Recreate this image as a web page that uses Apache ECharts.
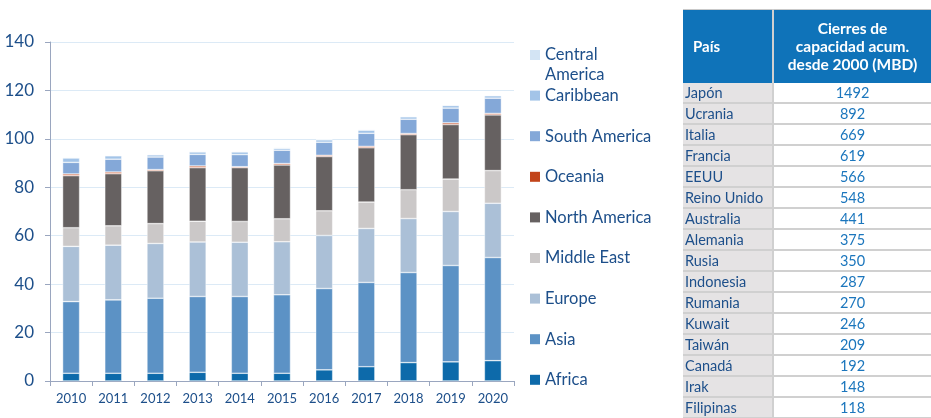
<html>
<head>
<meta charset="utf-8" />
<script src="https://cdn.jsdelivr.net/npm/echarts@6/dist/echarts.min.js"></script>
<title>Capacidad de refino</title>
<style>
    body { margin: 0; overflow: hidden; background: #fff; font-family: Lato, "DejaVu Sans", sans-serif; }
    #chart { position: absolute; left: 0; top: 0; width: 931px; height: 418px; }
    #tabla {
        position: absolute; left: 683px; top: 9px; width: 248px;
        border-collapse: collapse; font-family: Lato, sans-serif; font-size: 14.5px;
    }
    #tabla th { background: #0f73b9; color: #fff; font-weight: bold; height: 73px; padding: 0; border-top: 1px solid #c9c9c9; }
    #tabla th.pais { text-align: left; padding-left: 10px; width: 79px; border-right: 2px solid #d0d0d0; font-size: 15px; }
    #tabla th.val { line-height: 18px; text-align: center; font-size: 15.5px; }
    #tabla td { height: 19px; padding: 0; border-bottom: 2px solid #d0d0d0; line-height: 19px; }
    #tabla td.pais { background: #e5e3e4; color: #1d4f8a; padding-left: 2px; border-right: 2px solid #d0d0d0; }
    #tabla td.val { color: #1b76bd; text-align: center; }
</style>
</head>
<body>
<div id="chart"></div>
<table id="tabla">
    <thead><tr><th class="pais">País</th><th class="val">Cierres de<br>capacidad acum.<br>desde 2000 (MBD)</th></tr></thead>
    <tbody id="tbody"></tbody>
</table>
<script type="text/javascript">
    var years = ['2010', '2011', '2012', '2013', '2014', '2015', '2016', '2017', '2018', '2019', '2020'];

    var africa = [3.2, 3.2, 3.2, 3.6, 3.2, 3.2, 4.6, 5.9, 7.6, 7.9, 8.4];
    var asia = [29.6, 30.3, 31.0, 31.3, 31.7, 32.4, 33.6, 34.8, 37.2, 39.8, 42.6];
    var europe = [22.8, 22.6, 22.6, 22.5, 22.4, 21.9, 21.9, 22.3, 22.3, 22.3, 22.4];
    var middleEast = [7.7, 8.0, 8.2, 8.6, 8.6, 9.5, 10.2, 10.9, 11.9, 13.4, 13.5];
    var northAmerica = [21.5, 21.5, 21.8, 22.1, 22.2, 22.2, 22.4, 22.4, 22.7, 22.5, 23.0];
    var oceania = [0.7, 0.7, 0.5, 0.7, 0.4, 0.6, 0.5, 0.6, 0.5, 0.7, 0.6];
    var southAmerica = [4.8, 5.3, 5.2, 4.8, 5.0, 5.5, 5.4, 5.4, 5.9, 6.1, 6.3];
    var caribbean = [1.8, 1.4, 0.9, 1.0, 1.1, 0.8, 1.0, 1.3, 1.0, 1.1, 1.0];
    var centralAmerica = [0.3, 0.3, 0.3, 0.3, 0.3, 0.3, 0.3, 0.3, 0.3, 0.3, 0.3];

    var yTicks = [0, 20, 40, 60, 80, 100, 120, 140];

    var paises = ['Japón', 'Ucrania', 'Italia', 'Francia', 'EEUU', 'Reino Unido', 'Australia', 'Alemania',
        'Rusia', 'Indonesia', 'Rumania', 'Kuwait', 'Taiwán', 'Canadá', 'Irak', 'Filipinas'];
    var cierres = [1492, 892, 669, 619, 566, 548, 441, 375, 350, 287, 270, 246, 209, 192, 148, 118];

    // table on the right
    var tbody = document.getElementById('tbody');
    for (var i = 0; i < paises.length; i++) {
        var tr = document.createElement('tr');
        tr.innerHTML = '<td class="pais"></td><td class="val"></td>';
        tr.children[0].textContent = paises[i];
        tr.children[1].textContent = cierres[i];
        tbody.appendChild(tr);
    }

    var textBlue = '#1d4f8a';
    var regions = [
        { name: 'Africa', data: africa, color: '#0d6aaa' },
        { name: 'Asia', data: asia, color: '#5c92c5' },
        { name: 'Europe', data: europe, color: '#abc0d7' },
        { name: 'Middle East', data: middleEast, color: '#cbc8c8' },
        { name: 'North America', data: northAmerica, color: '#666161' },
        { name: 'Oceania', data: oceania, color: '#c2441a' },
        { name: 'South America', data: southAmerica, color: '#84a8d8' },
        { name: 'Caribbean', data: caribbean, color: '#a3c4e8' },
        { name: 'Central America', data: centralAmerica, color: '#d3e4f4' }
    ];

    var series = regions.map(function(r) {
        return {
            name: r.name,
            type: 'bar',
            stack: 'total',
            barWidth: 17,
            data: r.data,
            itemStyle: { color: r.color, borderColor: 'rgba(255,255,255,0.7)', borderWidth: 0.6 }
        };
    });

    var chart = echarts.init(document.getElementById('chart'));
    chart.setOption({
        animation: false,
        textStyle: { fontFamily: 'Lato' },
        grid: { left: 50, right: 417, top: 42, bottom: 37 },
        legend: {
            orient: 'vertical',
            left: 530,
            top: 45,
            padding: 0,
            itemWidth: 10,
            itemHeight: 10,
            itemGap: 20.6,
            icon: 'rect',
            itemStyle: { borderWidth: 0 },
            data: regions.map(function(r) { return r.name; }).reverse(),
            formatter: function(name) {
                return name === 'Central America' ? 'Central' : name;
            },
            textStyle: { fontSize: 16.5, lineHeight: 20, color: textBlue, fontFamily: 'Lato' }
        },
        graphic: [{
            type: 'text',
            left: 545,
            top: 66,
            style: { text: 'America', fontSize: 16.5, fontFamily: 'Lato', fill: textBlue }
        }],
        xAxis: {
            type: 'category',
            data: years,
            axisLine: { lineStyle: { color: '#9aa6bf', width: 1 } },
            axisTick: { show: true, length: 5, lineStyle: { color: '#9aa6bf' } },
            axisLabel: { color: textBlue, fontSize: 13, margin: 11 }
        },
        yAxis: {
            type: 'value',
            min: yTicks[0],
            max: yTicks[yTicks.length - 1],
            interval: 20,
            axisLine: { show: true, lineStyle: { color: '#9aa6bf', width: 1 } },
            axisTick: { show: true, length: 5, lineStyle: { color: '#9aa6bf' } },
            axisLabel: { color: textBlue, fontSize: 17, margin: 16 },
            splitLine: { lineStyle: { color: '#dceaf6', width: 1 } }
        },
        series: series
    });
</script>
</body>
</html>
